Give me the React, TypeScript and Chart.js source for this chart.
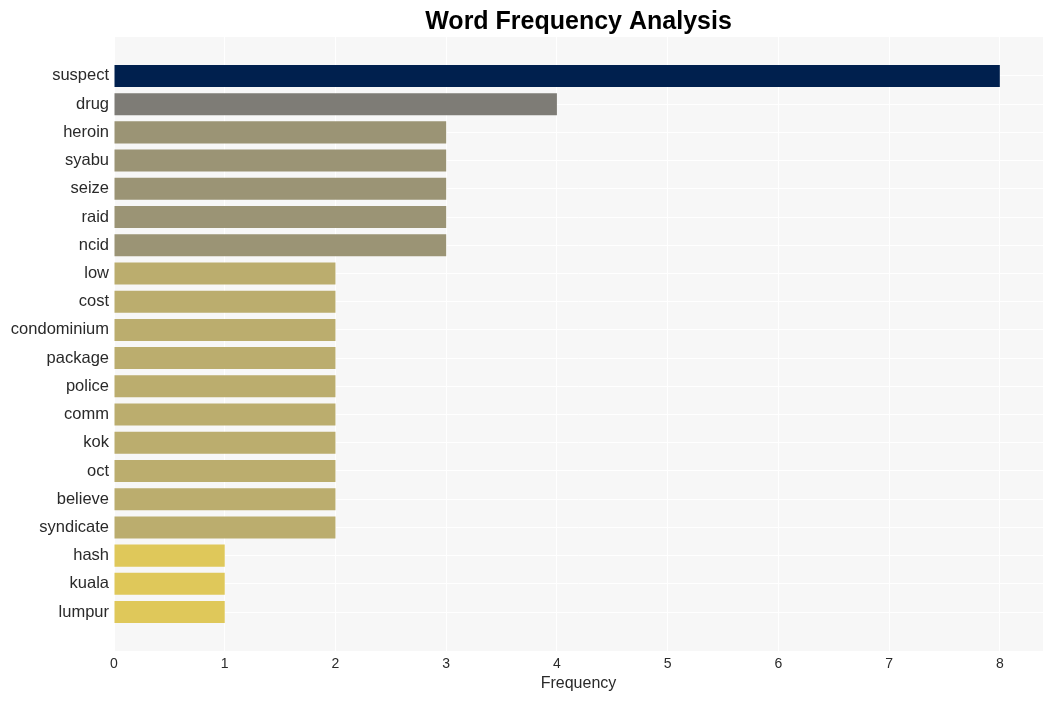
import React, { useEffect, useRef } from "react";
import { Chart, registerables } from "chart.js";

Chart.register(...registerables);

const words = [
  "suspect", "drug", "heroin", "syabu", "seize", "raid", "ncid", "low", "cost",
  "condominium", "package", "police", "comm", "kok", "oct", "believe", "syndicate",
  "hash", "kuala", "lumpur",
];
const frequencies = [8, 4, 3, 3, 3, 3, 3, 2, 2, 2, 2, 2, 2, 2, 2, 2, 2, 1, 1, 1];
const xTicks = [0, 1, 2, 3, 4, 5, 6, 7, 8];

function colorFor(v: number): string {
  if (v >= 8) return "#00204e";
  if (v >= 4) return "#7e7c76";
  if (v >= 3) return "#9b9475";
  if (v >= 2) return "#bbad6e";
  return "#dfc85a";
}

const bgPlugin = {
  id: "plotBg",
  beforeDraw(chart: any) {
    const { ctx, chartArea } = chart;
    ctx.save();
    ctx.fillStyle = "#f7f7f7";
    ctx.fillRect(chartArea.left, chartArea.top, chartArea.right - chartArea.left, chartArea.bottom - chartArea.top);
    ctx.restore();
  },
};

const FONT = "'Liberation Sans', Arial, sans-serif";

export default function App() {
  const ref = useRef<HTMLCanvasElement | null>(null);
  useEffect(() => {
    if (!ref.current) return;
    const pad = 1.38;
    const yMin = -pad;
    const yMax = words.length - 1 + pad;
    const chart = new Chart(ref.current, {
      type: "bar",
      data: {
        datasets: [
          {
            data: frequencies.map((v, i) => ({ x: v, y: i })),
            backgroundColor: frequencies.map(colorFor),
            borderWidth: 0,
            barPercentage: 0.78,
            categoryPercentage: 1,
          },
        ],
      },
      options: {
        indexAxis: "y",
        animation: false,
        responsive: false,
        maintainAspectRatio: false,
        layout: { padding: { left: 0, right: 11, top: 0, bottom: 0 } },
        plugins: {
          legend: { display: false },
          tooltip: { enabled: false },
          title: {
            display: true,
            text: "Word Frequency Analysis",
            fullSize: false,
            color: "#000",
            font: { family: FONT, size: 25, weight: "bold" },
            padding: { top: 7, bottom: 0 },
          },
        },
        scales: {
          x: {
            type: "linear",
            min: 0,
            max: 8.39,
            offset: false,
            border: { display: false },
            grid: { color: "#ffffff", lineWidth: 1, drawTicks: false, offset: false },
            afterBuildTicks: (scale: any) => {
              scale.ticks = xTicks.map((v) => ({ value: v }));
              scale.min = 0;
              scale.max = 8.39;
            },
            afterFit: (scale: any) => {
              scale.height = 50;
            },
            ticks: {
              color: "#2a2a2a",
              padding: 5,
              maxRotation: 0,
              font: { family: FONT, size: 14 },
              callback: (v: any) => String(v),
            },
            title: {
              display: true,
              text: "Frequency",
              color: "#2a2a2a",
              padding: { top: 0, bottom: 7.4 },
              font: { family: FONT, size: 16 },
            },
          },
          y: {
            type: "linear",
            reverse: true,
            min: yMin,
            max: yMax,
            offset: false,
            border: { display: false },
            grid: { color: "#ffffff", lineWidth: 1, drawTicks: false, offset: false },
            afterBuildTicks: (scale: any) => {
              scale.ticks = words.map((_, i) => ({ value: i }));
              scale.min = yMin;
              scale.max = yMax;
            },
            afterFit: (scale: any) => {
              scale.width = 114;
            },
            ticks: {
              color: "#2a2a2a",
              padding: 5,
              autoSkip: false,
              font: { family: FONT, size: 16.5 },
              callback: (v: any) => words[Math.round(Number(v))] ?? "",
            },
          },
        },
      },
      plugins: [bgPlugin],
    } as any);
    return () => chart.destroy();
  }, []);
  return (
    <div style={{ position: "fixed", left: 0, top: 0, width: 1054, height: 701, background: "#fff" }}>
      <canvas ref={ref} width={1054} height={701} style={{ width: 1054, height: 701, display: "block" }} />
    </div>
  );
}
